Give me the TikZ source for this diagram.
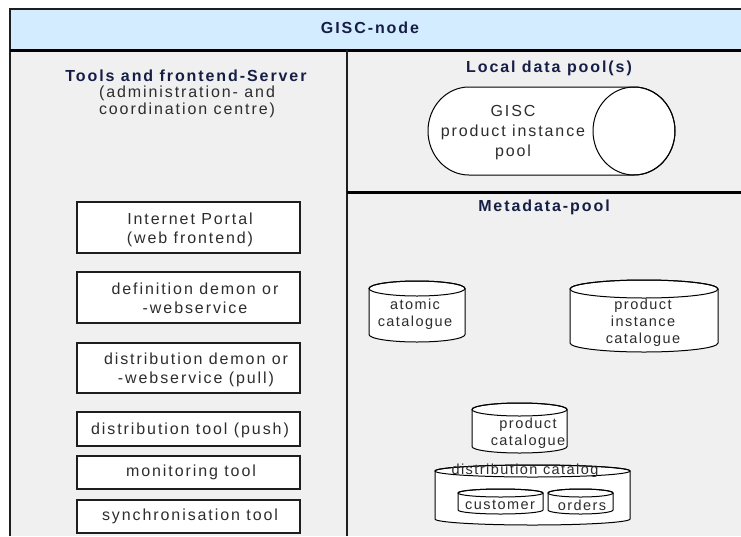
\documentclass[tikz,border=0pt]{standalone}
\usepackage{fontspec}
\setmainfont{Liberation Sans}[LetterSpace=12]
\newfontfamily\drumfont{Liberation Sans}[LetterSpace=10]

\definecolor{panelgray}{RGB}{240,240,240}
\definecolor{headblue}{RGB}{212,236,255}
\definecolor{headtext}{RGB}{22,30,70}
\definecolor{bodytext}{RGB}{45,45,45}
\definecolor{rulegray}{RGB}{30,30,30}

\tikzset{
  body/.style={align=center, inner sep=0pt, text=bodytext,
    font=\fontsize{16}{19}\selectfont},
  heading/.style={align=center, inner sep=0pt, text=headtext,
    font=\fontsize{16}{17}\selectfont\bfseries},
  drumtext/.style={align=center, inner sep=0pt, text=bodytext,
    font=\drumfont\fontsize{14.5}{17}\selectfont},
  toolbox/.style={draw=rulegray, line width=1.5pt, fill=white,
    minimum width=223pt, inner sep=0pt},
  drum/.style={draw=black, line width=1pt, fill=white},
  divider/.style={draw=rulegray, line width=2pt},
  thickdivider/.style={draw=black, line width=3pt},
}

% vertical drum (database cylinder): name, x1, y1, x2, y2, y radius of the caps
\newcommand\vdrum[6]{%
  \pgfmathsetmacro\drumcx{(#2+#4)/2}%
  \pgfmathsetmacro\drumrx{(#4-#2)/2}%
  \filldraw[drum] (#2,-#3-#6) -- (#2,-#5+#6)
    arc[start angle=180, end angle=360, x radius=\drumrx pt, y radius=#6 pt]
    -- (#4,-#3-#6)
    arc[start angle=0, end angle=180, x radius=\drumrx pt, y radius=#6 pt]
    -- cycle;
  \draw[drum, fill=none] (\drumcx,-#3-#6) ellipse[x radius=\drumrx pt, y radius=#6 pt];
  \coordinate (#1) at (\drumcx,{-(#3+#5)/2});
}

\begin{document}
\begin{tikzpicture}[x=1pt, y=1pt]
\useasboundingbox (0,0) rectangle (741,-536);
\fill[white] (0,0) rectangle (741,-536);

% frame, header band and panel dividers
\fill[panelgray] (10,-9) rectangle (741,-536);
\fill[headblue] (10,-9) rectangle (741,-50);
\draw[divider] (10,-536) -- (10,-9) -- (741,-9);
\draw[thickdivider] (10,-50) -- (741,-50);
\draw[divider] (347,-50) -- (347,-536);
\draw[thickdivider] (347,-192) -- (741,-192);

\node[heading] (gisc) at (370,-28) {GISC-node};

% left panel: tools and frontend server
\node[heading] (toolshead) at (186,-76) {Tools and frontend-Server};
\node[body, font=\fontsize{16}{17}\selectfont, anchor=north] (toolssub) at (187,-86)
  {(administration- and\\coordination centre)};

\node[toolbox, minimum height=51pt] (portal) at (188.5,-227.5) {};
\node[body] (portal-t) at (190,-229.5) {Internet Portal\\(web frontend)};

\node[toolbox, minimum height=51pt] (defdemon) at (188.5,-297.5) {};
\node[body] (defdemon-t) at (195,-298.5) {definition demon or\\-webservice};

\node[toolbox, minimum height=50pt] (distdemon) at (188.5,-368) {};
\node[body] (distdemon-t) at (196,-369.5) {distribution demon or\\-webservice (pull)};

\node[toolbox, minimum height=34pt] (disttool) at (188.5,-429) {};
\node[body] (disttool-t) at (190,-430) {distribution tool (push)};

\node[toolbox, minimum height=33pt] (montool) at (188.5,-472.5) {};
\node[body] (montool-t) at (191,-472.5) {monitoring tool};

\node[toolbox, minimum height=33pt] (synctool) at (188.5,-516.5) {};
\node[body] (synctool-t) at (190,-516.5) {synchronisation tool};

% right upper panel: local data pools
\node[heading] (localhead) at (549,-68) {Local data pool(s)};
\filldraw[drum] (469,-87) -- (634,-87)
  arc[start angle=90, end angle=-90, x radius=41pt, y radius=44pt]
  -- (469,-175)
  arc[start angle=270, end angle=90, x radius=41pt, y radius=44pt] -- cycle;
\draw[drum, fill=none] (634,-131) ellipse[x radius=41pt, y radius=44pt];
\node[body, font=\fontsize{16}{20}\selectfont] (pool-t) at (513,-133)
  {GISC\\product instance\\pool};

% right lower panel: metadata pool
\node[heading] (metahead) at (544,-207) {Metadata-pool};

\vdrum{atomic}{369}{281}{465}{342}{7.5}
\node[drumtext] (atomic-t) at (415,-314) {atomic\\catalogue};

\vdrum{instcat}{570}{280}{718}{352}{9}
\node[drumtext] (instcat-t) at (643,-323) {product\\instance\\catalogue};

\vdrum{prodcat}{472}{403}{567}{453}{6.5}
\node[drumtext] (prodcat-t) at (528,-433.5) {product\\catalogue};

\vdrum{distcat}{435}{465}{630}{525}{6}
\node[drumtext] (distcat-t) at (525,-471) {distribution catalog};

\vdrum{customer}{458}{489}{543}{514}{4}
\node[drumtext] (customer-t) at (500,-505) {customer};

\vdrum{orders}{548}{489}{613}{514}{4}
\node[drumtext] (orders-t) at (582,-505) {orders};
\end{tikzpicture}
\end{document}
